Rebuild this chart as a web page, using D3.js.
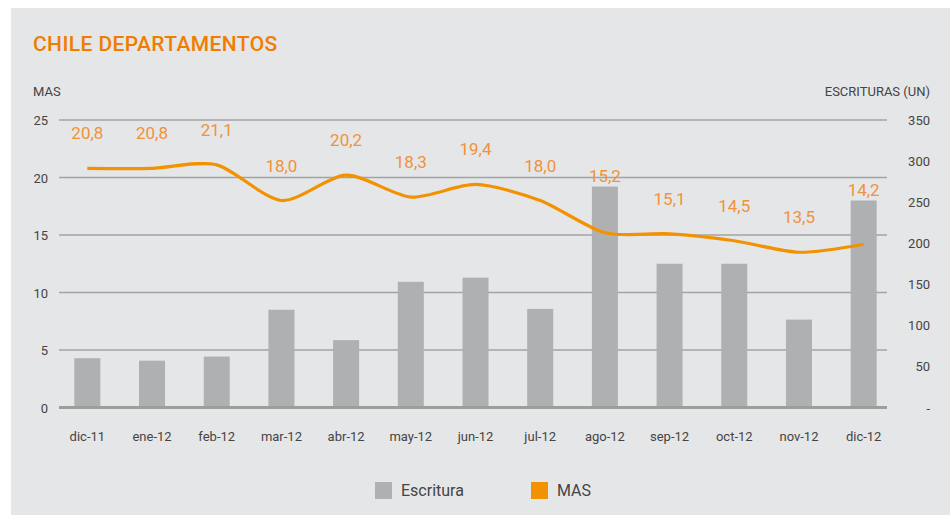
<!DOCTYPE html>
<html>
<head>
    <meta charset="utf-8" />
    <title>Chile Departamentos</title>
    <script src="https://d3js.org/d3.v7.min.js"></script>
    <style type="text/css">
        body { margin: 0; background: #fff; }
        svg { font-family: Roboto, "DejaVu Sans", sans-serif; }
        .grid line { stroke: #a3a3a3; stroke-width: 1.5; }
        .tick-label { fill: #444; font-size: 13px; }
        .line { fill: none; stroke: #f39200; stroke-width: 3.2; }
        .bar { fill: #afb0b1; }
        .val { fill: #f0923a; font-size: 17px; text-anchor: middle; }
    </style>
</head>
<body>
<svg></svg>
<script>
    // data
    var months = ['dic-11', 'ene-12', 'feb-12', 'mar-12', 'abr-12', 'may-12', 'jun-12',
        'jul-12', 'ago-12', 'sep-12', 'oct-12', 'nov-12', 'dic-12'];
    var mas = [20.8, 20.8, 21.1, 18.0, 20.2, 18.3, 19.4, 18.0, 15.2, 15.1, 14.5, 13.5, 14.2];
    var escrituras = [60, 57, 62, 119, 82, 153, 158, 120, 269, 175, 175, 107, 252];
    var leftTicks = [0, 5, 10, 15, 20, 25];
    var rightTicks = [0, 50, 100, 150, 200, 250, 300, 350];

    var W = 950, H = 517;
    var svg = d3.select('svg').attr('width', W).attr('height', H);

    // gray panel
    svg.append('rect')
        .attr('x', 11).attr('y', 8)
        .attr('width', W - 11).attr('height', H - 10)
        .attr('fill', '#e5e6e8');

    svg.append('text')
        .attr('x', 33).attr('y', 51)
        .attr('fill', '#ef7d00')
        .style('font-size', '21px')
        .style('font-weight', 500)
        .style('letter-spacing', '0.4px')
        .text('CHILE DEPARTAMENTOS');

    var x0 = 59, x1 = 887, yTop = 120, yBot = 407.5;

    var x = d3.scaleBand().domain(months).range([55, 896]);
    var yL = d3.scaleLinear().domain([0, 25]).range([yBot, yTop]);
    var yR = d3.scaleLinear().domain([0, 350]).range([yBot, yTop]);

    // gridlines
    svg.append('g').attr('class', 'grid')
        .selectAll('line')
        .data(leftTicks.filter(function (d) { return d > 0; }))
        .enter().append('line')
        .attr('x1', x0).attr('x2', x1)
        .attr('y1', function (d) { return yL(d); })
        .attr('y2', function (d) { return yL(d); });

    // left axis labels
    svg.append('g').selectAll('text')
        .data(leftTicks)
        .enter().append('text')
        .attr('class', 'tick-label')
        .attr('x', 48)
        .attr('y', function (d) { return yL(d) + 5; })
        .attr('text-anchor', 'end')
        .text(function (d) { return d; });

    // right axis labels
    svg.append('g').selectAll('text')
        .data(rightTicks)
        .enter().append('text')
        .attr('class', 'tick-label')
        .attr('x', 930)
        .attr('y', function (d) { return yR(d) + 5; })
        .attr('text-anchor', 'end')
        .text(function (d) { return d === 0 ? '-' : d; });

    svg.append('text').attr('class', 'tick-label')
        .attr('x', 33).attr('y', 96).text('MAS');
    svg.append('text').attr('class', 'tick-label')
        .attr('x', 930).attr('y', 96).attr('text-anchor', 'end').text('ESCRITURAS (UN)');

    // bars
    var bw = 26;
    svg.append('g').selectAll('rect')
        .data(escrituras)
        .enter().append('rect')
        .attr('class', 'bar')
        .attr('x', function (d, i) { return x(months[i]) + x.bandwidth() / 2 - bw / 2; })
        .attr('width', bw)
        .attr('y', function (d) { return yR(d); })
        .attr('height', function (d) { return yBot - yR(d); });

    // baseline
    svg.append('line')
        .attr('x1', x0).attr('x2', x1)
        .attr('y1', yBot).attr('y2', yBot)
        .attr('stroke', '#9d9e9c').attr('stroke-width', 3);

    // x labels
    svg.append('g').selectAll('text')
        .data(months)
        .enter().append('text')
        .attr('class', 'tick-label')
        .attr('x', function (d) { return x(d) + x.bandwidth() / 2; })
        .attr('y', 441)
        .attr('text-anchor', 'middle')
        .text(function (d) { return d; });

    // MAS line
    var line = d3.line()
        .x(function (d, i) { return x(months[i]) + x.bandwidth() / 2; })
        .y(function (d) { return yL(d); })
        .curve(d3.curveCardinal.tension(0.2));

    svg.append('path')
        .datum(mas)
        .attr('class', 'line')
        .attr('d', line);

    // value labels
    svg.append('g').selectAll('text')
        .data(mas)
        .enter().append('text')
        .attr('class', 'val')
        .attr('x', function (d, i) { return x(months[i]) + x.bandwidth() / 2; })
        .attr('y', function (d, i) { return Math.min(yL(d) - 29, yR(escrituras[i]) - 5); })
        .text(function (d) { return d3.format('.1f')(d).replace('.', ','); });

    // legend
    var legend = [{ name: 'Escritura', color: '#afb0b1', x: 375 }, { name: 'MAS', color: '#f39200', x: 531 }];
    var lg = svg.append('g').selectAll('g')
        .data(legend)
        .enter().append('g');
    lg.append('rect')
        .attr('x', function (d) { return d.x; })
        .attr('y', 482)
        .attr('width', 17).attr('height', 17)
        .attr('fill', function (d) { return d.color; });
    lg.append('text')
        .attr('x', function (d) { return d.x + 26; })
        .attr('y', 496)
        .attr('fill', '#444')
        .style('font-size', '16px')
        .text(function (d) { return d.name; });
</script>
</body>
</html>
